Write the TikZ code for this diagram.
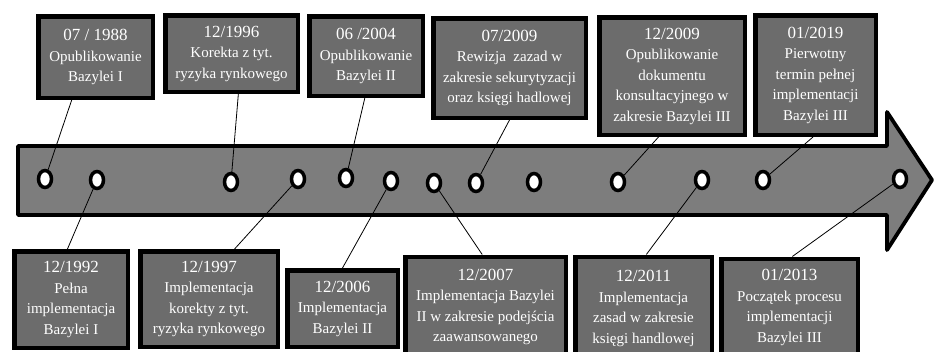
\documentclass[tikz,border=0pt]{standalone}
\usepackage{fontspec}
\setmainfont{Liberation Serif}
\usetikzlibrary{shapes.geometric,calc}
\definecolor{boxgray}{RGB}{108,108,108}
\definecolor{arrowgray}{RGB}{125,125,125}
\tikzset{
  evbox/.style={draw=black, line width=4.5pt, fill=boxgray, text=white, align=center,
    inner sep=0pt, rectangle, font=\fontsize{15}{20.5}\selectfont},
  evdot/.style={ellipse, draw=black, line width=3.5pt, fill=white, minimum width=13pt,
    minimum height=17pt, inner sep=0pt},
  link/.style={draw=black, line width=0.8pt},
  tl/.style={draw=black, line width=3.8pt, fill=arrowgray, line join=round}
}
\newcommand{\dt}[1]{{\fontsize{17}{20.5}\selectfont #1}}
\begin{document}
\begin{tikzpicture}[x=1pt, y=-1pt]
\useasboundingbox (0,0) rectangle (937,351);
% timeline arrow
\draw[tl] (18,146) -- (887,146) -- (887,112) -- (932,180) -- (887,250) -- (887,215) -- (18,215) -- cycle;
% dots
\node[evdot] (c1) at (45,179) {};
\node[evdot] (c2) at (97,180) {};
\node[evdot] (c3) at (231,182) {};
\node[evdot] (c4) at (298,179) {};
\node[evdot] (c5) at (346,178) {};
\node[evdot] (c6) at (391,181) {};
\node[evdot] (c7) at (434,183) {};
\node[evdot] (c8) at (476,183) {};
\node[evdot] (c9) at (534,182) {};
\node[evdot] (c10) at (618,182) {};
\node[evdot] (c11) at (702,180) {};
\node[evdot] (c12) at (763,180) {};
\node[evdot] (c13) at (900,179) {};
% top boxes
\node[evbox, minimum width=114.5pt, minimum height=81.5pt] (b1) at (95.5,57) {\dt{07 / 1988}\\Opublikowanie\\Bazylei I};
\node[evbox, minimum width=132.5pt, minimum height=76.5pt] (b2) at (231.5,53.5) {\dt{12/1996}\\Korekta z tyt.\\ryzyka rynkowego};
\node[evbox, minimum width=113.5pt, minimum height=79.5pt] (b3) at (366,56) {\dt{06 /2004}\\Opublikowanie\\Bazylei II};
\node[evbox, minimum width=152.5pt, minimum height=99.5pt] (b4) at (509.5,68) {\dt{07/2009}\\Rewizja \ zazad w\\zakresie sekurytyzacji\\oraz księgi hadlowej};
\node[evbox, minimum width=145.5pt, minimum height=117.5pt] (b5) at (672,76) {\dt{12/2009}\\Opublikowanie\\dokumentu\\konsultacyjnego w\\zakresie Bazylei III};
\node[evbox, minimum width=120.5pt, minimum height=119.5pt] (b6) at (815.5,75) {\dt{01/2019}\\Pierwotny\\termin pełnej\\implementacji\\Bazylei III};
% bottom boxes
\node[evbox, minimum width=113.5pt, minimum height=96.5pt] (d1) at (71,299.5) {\dt{12/1992}\\Pełna\\implementacja\\Bazylei I};
\node[evbox, minimum width=137.5pt, minimum height=95.5pt] (d2) at (209,299) {\dt{12/1997}\\Implementacja\\korekty z tyt.\\ryzyka rynkowego};
\node[evbox, minimum width=110.5pt, minimum height=76.5pt] (d3) at (342.5,308.5) {\dt{12/2006}\\Implementacja\\Bazylei II};
\node[evbox, minimum width=160.5pt, minimum height=100.5pt] (d4) at (485.5,307) {\dt{12/2007}\\Implementacja Bazylei\\II w zakresie podejścia\\zaawansowanego};
\node[evbox, minimum width=136.5pt, minimum height=103.5pt] (d5) at (643.5,308.5) {\dt{12/2011}\\Implementacja\\zasad w zakresie\\księgi handlowej};
\node[evbox, minimum width=136.5pt, minimum height=97.5pt] (d6) at (789.5,307.5) {\dt{01/2013}\\Początek procesu\\implementacji\\Bazylei III};
% connectors top
\draw[link] ($(b1.south west)!0.30!(b1.south east)$) -- (c1);
\draw[link] ($(b2.south west)!0.55!(b2.south east)$) -- (c3);
\draw[link] ($(b3.south west)!0.49!(b3.south east)$) -- (c5);
\draw[link] ($(b4.south west)!0.50!(b4.south east)$) -- (c8);
\draw[link] ($(b5.south west)!0.41!(b5.south east)$) -- (c10);
\draw[link] ($(b6.south west)!0.48!(b6.south east)$) -- (c12);
% connectors bottom
\draw[link] ($(d1.north west)!0.47!(d1.north east)$) -- (c2);
\draw[link] ($(d2.north west)!0.68!(d2.north east)$) -- (c4);
\draw[link] ($(d3.north west)!0.50!(d3.north east)$) -- (c6);
\draw[link] ($(d4.north west)!0.48!(d4.north east)$) -- (c7);
\draw[link] ($(d5.north west)!0.52!(d5.north east)$) -- (c11);
\draw[link] ($(d6.north west)!0.52!(d6.north east)$) -- (c13);
\end{tikzpicture}
\end{document}
